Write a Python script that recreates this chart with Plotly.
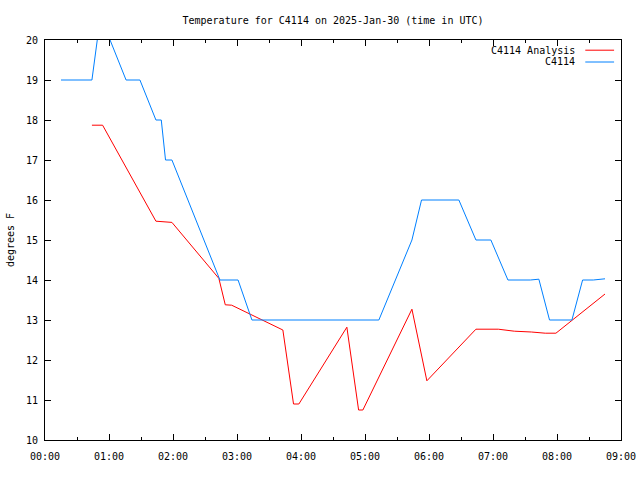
import plotly.graph_objects as go

DAY = "2025-01-30 "

# C4114 observations (blue)
obs_times = ["00:15", "00:44", "00:49", "00:55", "01:01", "01:16", "01:29", "01:44", "01:49",
             "01:53", "01:59", "02:44", "03:01", "03:14", "05:13", "05:44", "05:53", "06:28",
             "06:44", "06:58", "07:14", "07:35", "07:43", "07:53", "08:14", "08:24", "08:34", "08:45"]
obs_values = [19, 19, 20, 21, 20, 19, 19, 18, 18,
              17, 17, 14, 14, 13, 13, 15, 16, 16,
              15, 15, 14, 14, 14.02, 13, 13, 14, 14, 14.03]

# C4114 Analysis (red)
ana_times = ["00:44", "00:54", "01:44", "01:59", "02:43", "02:49", "02:55", "03:43", "03:53",
             "03:58", "04:43", "04:54", "04:58", "05:44", "05:58", "06:44", "07:05", "07:20",
             "07:36", "07:49", "07:59", "08:45"]
ana_values = [17.87, 17.87, 15.47, 15.44, 14.04, 13.38, 13.37, 12.75, 10.9,
              10.9, 12.82, 10.75, 10.75, 13.27, 11.48, 12.77, 12.77, 12.72,
              12.70, 12.67, 12.67, 13.65]

title_text = "Temperature for C4114 on 2025-Jan-30 (time in UTC)"
y_title = "degrees F"
series_names = ["C4114 Analysis", "C4114"]
colors = ["#ff0000", "#0080ff"]

FONT = "DejaVu Sans Mono"
FS = 10

fig = go.Figure()
fig.add_trace(go.Scatter(x=[DAY + t for t in ana_times], y=ana_values, mode="lines",
                         name=series_names[0], line=dict(color=colors[0], width=1)))
fig.add_trace(go.Scatter(x=[DAY + t for t in obs_times], y=obs_values, mode="lines",
                         name=series_names[1], line=dict(color=colors[1], width=1)))

# gnuplot-style legend: right-aligned text with line sample on the right
for i, (name, col) in enumerate(zip(series_names, colors)):
    yy = 0.9745 - i * 0.0295
    fig.add_annotation(xref="paper", yref="paper", x=0.923, y=yy, text=name,
                       showarrow=False, xanchor="right", yanchor="middle",
                       font=dict(family=FONT, size=FS, color="black"))
    fig.add_shape(type="line", xref="paper", yref="paper", x0=0.938, x1=0.988, y0=yy, y1=yy,
                  line=dict(color=col, width=1))

fig.update_layout(
    width=640, height=480,
    margin=dict(l=45, r=19, t=40, b=40),
    paper_bgcolor="white", plot_bgcolor="white",
    showlegend=False,
    title=dict(text=title_text, x=333 / 640, xanchor="center", y=1 - 20 / 480, yanchor="middle",
               font=dict(family=FONT, size=FS, color="black")),
    font=dict(family=FONT, size=FS, color="black"),
)
fig.update_xaxes(
    type="date", automargin=False,
    range=[DAY + "00:00", DAY + "09:00"],
    dtick=3600000, tick0=DAY + "00:00", tickformat="%H:%M",
    ticks="inside", ticklen=6, tickcolor="black", ticklabelstandoff=7,
    showline=True, linecolor="black", linewidth=1, mirror="ticks",
    showgrid=False, zeroline=False,
    minor=dict(ticks="inside", dtick=1800000, ticklen=3, tickcolor="black", showgrid=False),
    tickfont=dict(family=FONT, size=FS),
)
fig.update_yaxes(
    automargin=False,
    range=[10, 20], dtick=1, tick0=10,
    ticks="inside", ticklen=6, tickcolor="black", ticklabelstandoff=4,
    showline=True, linecolor="black", linewidth=1, mirror="ticks",
    showgrid=False, zeroline=False,
    title=dict(text=y_title, font=dict(family=FONT, size=FS), standoff=9),
    tickfont=dict(family=FONT, size=FS),
)

fig.write_html("out.html")
